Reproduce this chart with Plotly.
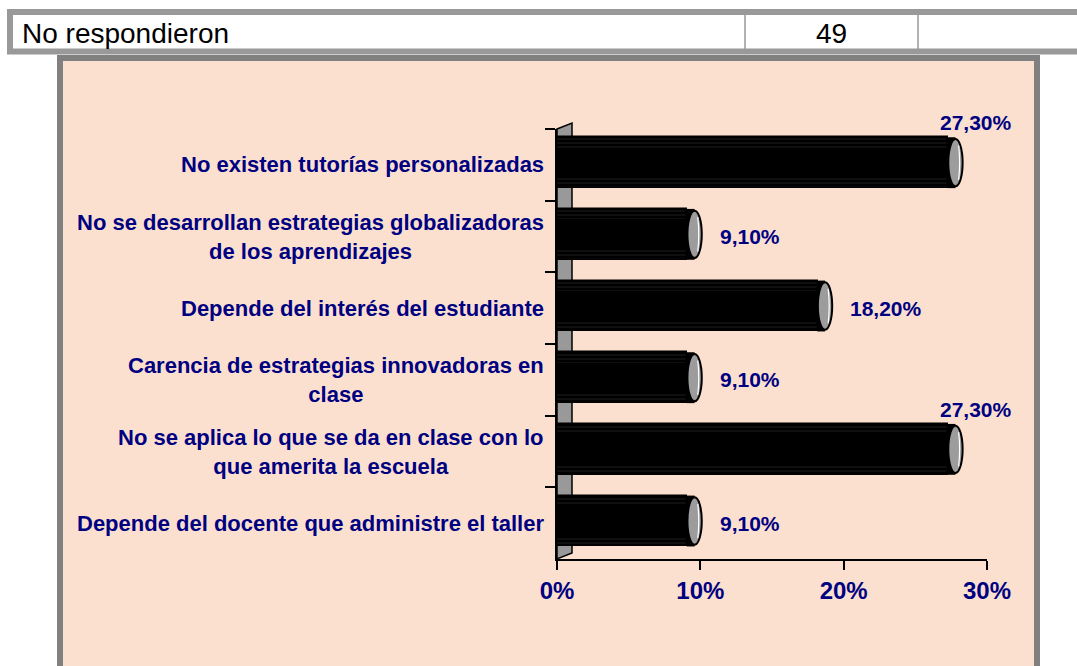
import plotly.graph_objects as go

# Survey answers (top to bottom) and their shares in percent
categories = [
    "No existen tutorías personalizadas",
    "No se desarrollan estrategias globalizadoras<br>de los aprendizajes",
    "Depende del interés del estudiante",
    "Carencia de estrategias innovadoras en<br>clase",
    "No se aplica lo que se da en clase con lo<br>que amerita la escuela",
    "Depende del docente que administre el taller",
]
values = [27.3, 9.1, 18.2, 9.1, 27.3, 9.1]
x_ticks = [0, 10, 20, 30]
table_label = "No respondieron"
table_value = "49"

W, H = 1077, 666
NAVY = "#000080"
PEACH = "#FBE0CF"
FONT = "Liberation Sans, Arial, sans-serif"


def px(x):
    return x / W


def py(y):
    return 1 - y / H


BAR_W = 0.71
BAR_OFF = -0.03

fig = go.Figure()

# cylinder body with faint highlight stripes near its edges
fig.add_trace(go.Bar(
    x=values, y=categories, orientation="h",
    width=BAR_W, offset=BAR_OFF - BAR_W / 2,
    marker=dict(color="black", line=dict(color="black", width=1.5),
                pattern=dict(shape="-", fgcolor="#3c3c3c", bgcolor="black",
                             size=4, solidity=0.25)),
    hoverinfo="skip",
))
inner_w = 0.42
fig.add_trace(go.Bar(
    x=values, y=categories, orientation="h",
    width=inner_w, offset=BAR_OFF - inner_w / 2,
    marker=dict(color="black", line=dict(width=0)),
    hoverinfo="skip",
))

shapes = []
# table row above the chart
shapes.append(dict(type="rect", xref="paper", yref="paper",
                   x0=px(10), x1=px(1100), y0=py(12), y1=py(51.5),
                   fillcolor="white", line=dict(color="#999999", width=6),
                   layer="below"))
for xd in (745, 918):
    shapes.append(dict(type="line", xref="paper", yref="paper",
                       x0=px(xd), x1=px(xd), y0=py(15), y1=py(49),
                       line=dict(color="#999999", width=1.5), layer="below"))
# chart frame
shapes.append(dict(type="rect", xref="paper", yref="paper",
                   x0=px(60), x1=px(1037), y0=py(58), y1=py(720),
                   fillcolor=PEACH, line=dict(color="#808080", width=6),
                   layer="below"))
# 3D side wall
shapes.append(dict(type="path", xref="paper", yref="paper",
                   path=(f"M {px(557)},{py(129)} L {px(572)},{py(123)} "
                         f"L {px(572)},{py(553)} L {px(557)},{py(559)} Z"),
                   fillcolor="#999999", line=dict(color="black", width=1.5),
                   layer="below"))

# cylinder end caps
for i, v in enumerate(values):
    c = i + BAR_OFF
    shapes.append(dict(type="rect", xref="x", yref="y",
                       x0=v - 0.05, x1=v + 0.5,
                       y0=c - BAR_W / 2, y1=c + BAR_W / 2,
                       fillcolor="black", line=dict(width=0)))
    shapes.append(dict(type="circle", xref="x", yref="y",
                       x0=v, x1=v + 1.0,
                       y0=c - 0.33, y1=c + 0.33,
                       fillcolor="#9c9c9c", line=dict(color="black", width=2)))
    shapes.append(dict(type="path", xref="x", yref="y",
                       path=(f"M {v + 0.72},{c - 0.24} "
                             f"Q {v + 0.86},{c} {v + 0.72},{c + 0.24}"),
                       line=dict(color="white", width=1.2)))

annotations = []
# table texts
annotations.append(dict(xref="paper", yref="paper", x=px(20), y=py(33),
                        xanchor="left", yanchor="middle", showarrow=False,
                        text=table_label,
                        font=dict(family=FONT, size=28, color="black")))
annotations.append(dict(xref="paper", yref="paper", x=px(831.5), y=py(33),
                        xanchor="center", yanchor="middle", showarrow=False,
                        text=table_value,
                        font=dict(family=FONT, size=28, color="black")))

# category labels, centred lines, right edge next to the axis
for cat in categories:
    annotations.append(dict(xref="paper", yref="y", x=px(546), y=cat,
                            xanchor="right", yanchor="middle", align="center",
                            showarrow=False, text=cat,
                            font=dict(family=FONT, size=22, color=NAVY,
                                      weight="bold")))

# value labels
for cat, v in zip(categories, values):
    txt = f"{v:.2f}%".replace(".", ",")
    if v > 25:
        annotations.append(dict(xref="x", yref="y", x=v + 1.95, y=cat,
                                xanchor="center", yanchor="middle",
                                yshift=42, showarrow=False, text=txt,
                                font=dict(family=FONT, size=21, color=NAVY,
                                          weight="bold")))
    else:
        annotations.append(dict(xref="x", yref="y", x=v + 2.1, y=cat,
                                xanchor="left", yanchor="middle",
                                showarrow=False, text=txt,
                                font=dict(family=FONT, size=21, color=NAVY,
                                          weight="bold")))

fig.update_layout(
    width=W, height=H,
    margin=dict(l=0, r=0, t=0, b=0, pad=0, autoexpand=False),
    paper_bgcolor="white",
    plot_bgcolor="rgba(0,0,0,0)",
    barmode="overlay",
    bargap=0,
    showlegend=False,
    shapes=shapes,
    annotations=annotations,
    xaxis=dict(
        domain=[px(557), px(987)],
        range=[0, 30],
        tickvals=x_ticks,
        ticktext=[f"{t}%" for t in x_ticks],
        showgrid=False, zeroline=False,
        showline=True, linecolor="black", linewidth=2,
        ticks="outside", ticklen=9, tickwidth=2, tickcolor="black",
        tickfont=dict(family=FONT, size=24, color=NAVY, weight="bold"),
        automargin=False,
    ),
    yaxis=dict(
        domain=[py(559), py(129)],
        type="category",
        categoryorder="array", categoryarray=categories,
        autorange="reversed",
        showgrid=False, zeroline=False,
        showline=True, linecolor="black", linewidth=2,
        ticks="outside", ticklen=10, tickwidth=2, tickcolor="black",
        tickson="boundaries",
        showticklabels=False,
        automargin=False,
    ),
)

fig.write_html("out.html")
